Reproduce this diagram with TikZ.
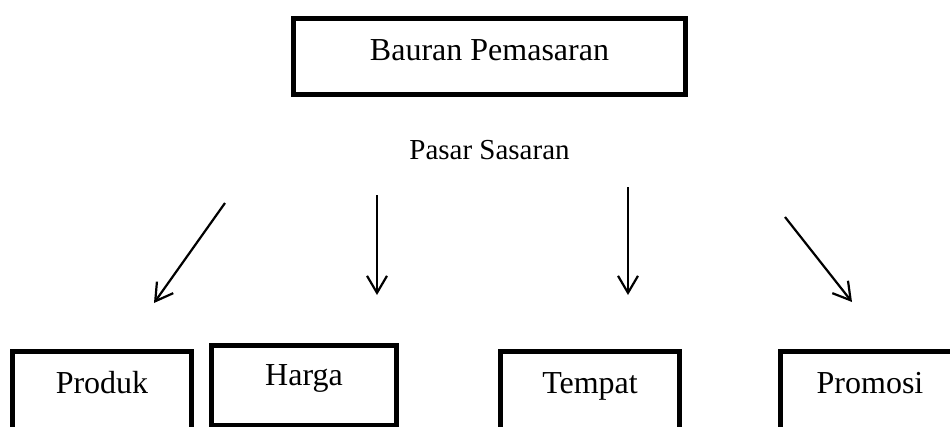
\documentclass[tikz,border=0pt]{standalone}
\usepackage{fontspec}
\setmainfont{Liberation Serif}
\usetikzlibrary{arrows.meta}
\tikzset{
  box/.style={draw, line width=5pt, inner sep=0pt, anchor=base,
    text height=41.5pt, text depth=34.5pt, font=\fontsize{32}{38}\selectfont},
  lowbox/.style={box, text depth=50pt},
  arr/.style={line width=2.2pt, -{Straight Barb[length=17pt,width=20pt]}},
}
\begin{document}
\begin{tikzpicture}[x=1pt,y=-1pt]
\useasboundingbox (0,0) rectangle (950,426);
\clip (0,0) rectangle (950,426);
\node[box, minimum width=392pt] (mix) at (489.5,60) {Bauran Pemasaran};
\node[font=\fontsize{29}{35}\selectfont, anchor=base, inner sep=0pt] (target) at (489.5,159) {Pasar Sasaran};
\node[lowbox, minimum width=179pt] (produk) at (102,393) {Produk};
\node[box, minimum width=185pt, text height=39.5pt, text depth=40.5pt] (harga) at (304,385) {Harga};
\node[lowbox, minimum width=179pt] (tempat) at (590,393) {Tempat};
\node[lowbox, minimum width=230pt] (promosi) at (895.5,393) {\makebox[179pt]{Promosi}\hspace*{51pt}};
\coordinate (a1s) at (225,203); \coordinate (a1e) at (154,303);
\coordinate (a2s) at (377,195); \coordinate (a2e) at (377,295);
\coordinate (a3s) at (628,187); \coordinate (a3e) at (628,295);
\coordinate (a4s) at (785,217); \coordinate (a4e) at (852,302);
\draw[arr] (a1s) -- (a1e);
\draw[arr] (a2s) -- (a2e);
\draw[arr] (a3s) -- (a3e);
\draw[arr] (a4s) -- (a4e);
\end{tikzpicture}
\end{document}
